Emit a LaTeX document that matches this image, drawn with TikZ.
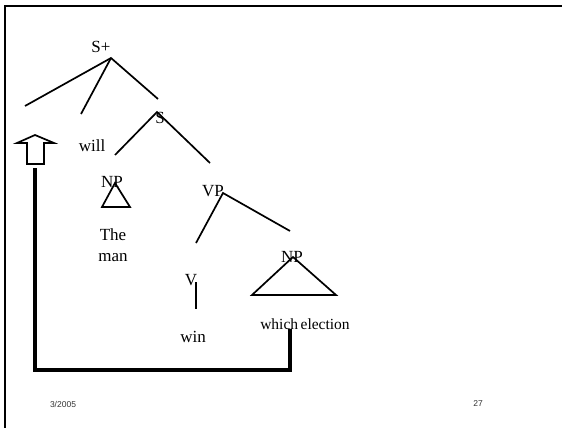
\documentclass[tikz,border=0pt]{standalone}
\usepackage{fontspec}
\setmainfont{Liberation Serif}
\newfontfamily\footfont{Liberation Sans}
\begin{document}
\begin{tikzpicture}[x=1pt,y=-1pt,
  lbl/.style={inner sep=0pt,font=\fontsize{17}{19}\selectfont},
  wordlbl/.style={inner sep=0pt,font=\fontsize{15.5}{17}\selectfont},
  foot/.style={inner sep=0pt,font=\footfont\fontsize{8.5}{10}\selectfont,text=black!80},
  branch/.style={line width=1.7pt},
  tri/.style={line width=1.7pt,line join=miter},
  move/.style={line width=3.8pt,line join=miter},
  frame/.style={line width=2.4pt}]
\useasboundingbox (0,0) rectangle (562,428);
% frame
\draw[frame] (5,428) -- (5,6) -- (562,6);
% labels
\node[lbl] (splus) at (101,47) {S+};
\node[lbl] (s) at (160,118) {S};
\node[lbl] (will) at (92,146) {will};
\node[lbl] (np1) at (112,182) {NP};
\node[lbl] (vp) at (213,191) {VP};
\node[lbl] (np2) at (292,257) {NP};
\node[lbl] (v) at (191,280) {V};
\node[lbl] (the) at (113,235) {The};
\node[lbl] (man) at (113,258) {man};
\node[lbl] (win) at (193,337) {win};
\node[wordlbl] (we) at (305,324) {which\kern2.5pt election};
\node[foot] (date) at (63,404) {3/2005};
\node[foot] (page) at (478,404) {27};
% coordinates
\coordinate (a0) at (111,58);
\coordinate (a0l) at (25,106);
\coordinate (a0m) at (81,114);
\coordinate (a0r) at (158,99);
\coordinate (a1) at (157,112);
\coordinate (a1l) at (115,155);
\coordinate (a1r) at (210,163);
\coordinate (a2) at (223,193);
\coordinate (a2l) at (196,243);
\coordinate (a2r) at (290,231);
\coordinate (t1) at (115,183);
\coordinate (t2) at (293,257);
\coordinate (v1) at (196,282);
\coordinate (v2) at (196,309);
% branches
\draw[branch] (a0l) -- (a0) -- (a0r);
\draw[branch] (a0) -- (a0m);
\draw[branch] (a1l) -- (a1) -- (a1r);
\draw[branch] (a2l) -- (a2) -- (a2r);
\draw[branch] (v1) -- (v2);
% triangles
\draw[tri] (t1) -- (102,207) -- (130,207) -- cycle;
\draw[tri] (t2) -- (252,295) -- (336,295) -- cycle;
% up arrow
\node[inner sep=0pt] (arrowtip) at (35,135) {};
\draw[line width=1.7pt,line join=miter] (arrowtip.center) -- (17,143) -- (27,143) -- (27,164) -- (44,164) -- (44,143) -- (54,143) -- cycle;
% movement line
\coordinate (m0) at (35,168);
\coordinate (m1) at (290,329);
\draw[move] (m0) |- (m1 |- 0,370) -- (m1);
\end{tikzpicture}
\end{document}
